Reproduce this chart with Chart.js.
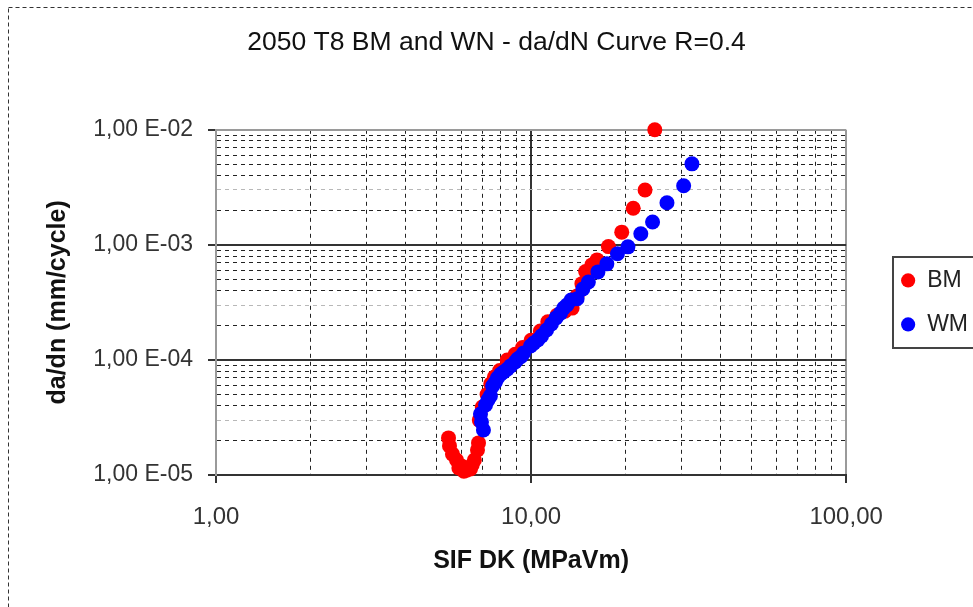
<!DOCTYPE html>
<html>
<head>
<meta charset="utf-8">
<title>2050 T8 BM and WN - da/dN Curve</title>
<script src="https://cdn.jsdelivr.net/npm/chart.js@4.4.1/dist/chart.umd.min.js"></script>
<style>
  html, body { margin: 0; padding: 0; background: #fff; overflow: hidden; }
  canvas { display: block; }
</style>
</head>
<body>
<canvas id="dadnChart" width="1000" height="630"></canvas>
<script>
// crack growth rate vs stress intensity range, R = 0.4
// BM = base metal, WM = weld metal
const bmDeltaK = [5.47, 5.51, 5.63, 5.80, 5.90, 6.01, 6.12, 6.24, 6.42, 6.50, 6.61, 6.76, 6.81,
  6.85, 7.00, 7.25, 7.45, 7.65, 7.95, 8.40, 8.90, 9.40, 10.0, 10.7, 11.3, 12.1, 12.8, 13.5,
  14.0, 14.5, 14.9, 15.6, 16.2, 17.6, 19.4, 21.1, 23.0, 24.7];
const bmRate = [2.10e-5, 1.79e-5, 1.52e-5, 1.35e-5, 1.15e-5, 1.20e-5, 1.08e-5, 1.10e-5, 1.13e-5, 1.22e-5, 1.35e-5, 1.65e-5, 1.90e-5,
  3.0e-5, 3.9e-5, 5.0e-5, 6.2e-5, 7.1e-5, 8.1e-5, 1.0e-4, 1.12e-4, 1.28e-4, 1.48e-4, 1.78e-4, 2.15e-4, 2.45e-4, 2.65e-4, 2.82e-4,
  3.6e-4, 4.6e-4, 5.86e-4, 6.7e-4, 7.4e-4, 9.66e-4, 1.29e-3, 2.08e-3, 3.0e-3, 1.0e-2];

const wmDeltaK = [7.06, 6.96, 6.91, 7.17, 7.30, 7.43, 7.55, 7.70, 7.82, 8.00, 8.18, 8.40, 8.61, 8.90, 9.06, 9.30, 9.47, 9.96,
  10.2, 10.5, 10.8, 11.2, 11.6, 12.0, 12.4, 12.7, 13.0, 13.4, 14.0, 14.6, 15.2, 16.3, 17.4, 18.8, 20.3,
  22.3, 24.3, 27.0, 30.5, 32.4];
const wmRate = [2.46e-5, 2.89e-5, 3.39e-5, 4.06e-5, 4.5e-5, 4.87e-5, 5.94e-5, 6.4e-5, 6.97e-5, 7.5e-5, 7.86e-5, 8.3e-5, 8.87e-5, 9.6e-5, 1.02e-4, 1.07e-4, 1.15e-4, 1.32e-4,
  1.40e-4, 1.49e-4, 1.62e-4, 1.82e-4, 2.05e-4, 2.32e-4, 2.55e-4, 2.83e-4, 3.0e-4, 3.32e-4, 3.4e-4, 4.14e-4, 4.76e-4, 5.82e-4, 6.84e-4, 8.36e-4, 9.61e-4,
  1.25e-3, 1.58e-3, 2.32e-3, 3.26e-3, 5.06e-3];

const xDecades = [1, 10, 100];
const xTickLabels = ['1,00', '10,00', '100,00'];
const yDecades = [1e-5, 1e-4, 1e-3, 1e-2];
const yTickLabels = ['1,00 E-05', '1,00 E-04', '1,00 E-03', '1,00 E-02'];

Chart.defaults.font.family = '"Liberation Sans", Arial, sans-serif';

const toPoints = (xs, ys) => xs.map((x, i) => ({ x: x, y: ys[i] }));

function mantissa(v) {
  return v / Math.pow(10, Math.floor(Math.log10(v) + 1e-9));
}
function isDecade(v) {
  return Math.abs(mantissa(v) - 1) < 1e-6 || Math.abs(mantissa(v) - 10) < 1e-6;
}
function decadeIndex(list, v) {
  return list.findIndex(d => Math.abs(Math.log10(v) - Math.log10(d)) < 1e-6);
}
// log scale only gets 1..9 x 10^n steps
function keepWholeSteps(scale) {
  scale.ticks = scale.ticks.filter(t => {
    const m = mantissa(t.value);
    return Math.abs(m - Math.round(m)) < 1e-6;
  });
}

function gridColor(ctx, horizontalLines) {
  if (!ctx.tick) return '#333';
  const v = ctx.tick.value;
  if (isDecade(v)) {
    return Math.abs(Math.log10(v) - Math.log10(ctx.scale.max)) < 1e-6 ? '#9a9a9a' : '#333';
  }
  if (horizontalLines && Math.abs(mantissa(v) - 3) < 1e-6) return '#b8b8b8';
  return '#222';
}
const gridWidth = ctx => (ctx.tick && isDecade(ctx.tick.value) ? 2 : 1);
const gridDash = ctx => (ctx.tick && isDecade(ctx.tick.value) ? [] : [4, 4]);
const tickMarkColor = ctx => (ctx.tick && isDecade(ctx.tick.value) ? '#333' : 'rgba(0,0,0,0)');

// white background, dashed outer frame and the legend box
const framePlugin = {
  id: 'frame',
  beforeDraw(chart) {
    const ctx = chart.ctx;
    ctx.save();
    ctx.fillStyle = '#fff';
    ctx.fillRect(0, 0, chart.width, chart.height);
    ctx.strokeStyle = '#333';
    ctx.lineWidth = 1;
    ctx.setLineDash([4, 3]);
    ctx.strokeRect(8.5, 7.5, chart.width, chart.height);
    ctx.restore();
  },
  afterDraw(chart) {
    const boxes = chart.legend && chart.legend.legendHitBoxes;
    if (!boxes || !boxes.length) return;
    const first = boxes[0];
    const last = boxes[boxes.length - 1];
    const x = Math.round(first.left - 7.5);
    const y = Math.round(first.top - 12);
    const ctx = chart.ctx;
    ctx.save();
    ctx.strokeStyle = '#444';
    ctx.lineWidth = 2;
    ctx.strokeRect(x, y, chart.width - x + 10, Math.round(last.top + last.height + 12) - y);
    ctx.restore();
  }
};

new Chart(document.getElementById('dadnChart'), {
  type: 'scatter',
  data: {
    datasets: [
      {
        label: 'BM',
        data: toPoints(bmDeltaK, bmRate),
        backgroundColor: '#ff0000',
        borderColor: '#ff0000',
        pointRadius: 7.5,
        pointBorderWidth: 0,
        order: 2,
        clip: false
      },
      {
        label: 'WM',
        data: toPoints(wmDeltaK, wmRate),
        backgroundColor: '#0000ff',
        borderColor: '#0000ff',
        pointRadius: 7.5,
        pointBorderWidth: 0,
        order: 1,
        clip: false
      }
    ]
  },
  options: {
    responsive: false,
    animation: false,
    layout: { padding: { left: 15, top: 0, right: 22, bottom: 0 } },
    plugins: {
      title: {
        display: true,
        text: '2050 T8 BM and WN - da/dN Curve R=0.4',
        color: '#111',
        font: { size: 26.5, weight: 'normal' },
        padding: { top: 27, bottom: 71 }
      },
      legend: {
        position: 'right',
        fullSize: false,
        labels: {
          usePointStyle: true,
          pointStyle: 'circle',
          boxWidth: 15,
          boxHeight: 10,
          padding: 21,
          color: '#222',
          font: { size: 23 },
          sort: (a, b) => a.datasetIndex - b.datasetIndex
        }
      },
      tooltip: { enabled: false }
    },
    scales: {
      x: {
        type: 'logarithmic',
        position: 'bottom',
        min: 1,
        max: 100,
        afterBuildTicks: keepWholeSteps,
        afterFit: scale => { scale.height = 155; },
        ticks: {
          autoSkip: false,
          maxRotation: 0,
          padding: 20,
          color: '#333',
          font: { size: 24 },
          callback: v => {
            const i = decadeIndex(xDecades, v);
            return i < 0 ? '' : xTickLabels[i];
          }
        },
        grid: {
          color: ctx => gridColor(ctx, false),
          lineWidth: gridWidth,
          tickLength: 8,
          tickWidth: 2,
          tickColor: tickMarkColor
        },
        border: { display: true, color: '#333', width: 2, dash: gridDash },
        title: {
          display: true,
          text: 'SIF DK (MPaVm)',
          color: '#111',
          font: { size: 25, weight: 'bold' },
          padding: { top: 0, bottom: 54 }
        }
      },
      y: {
        type: 'logarithmic',
        position: 'left',
        min: 1e-5,
        max: 1e-2,
        afterBuildTicks: keepWholeSteps,
        afterFit: scale => { scale.width = 201; },
        ticks: {
          autoSkip: false,
          padding: 15,
          color: '#333',
          font: { size: 23 },
          callback: v => {
            const i = decadeIndex(yDecades, v);
            return i < 0 ? '' : yTickLabels[i];
          }
        },
        grid: {
          color: ctx => gridColor(ctx, true),
          lineWidth: gridWidth,
          tickLength: 8,
          tickWidth: 2,
          tickColor: tickMarkColor
        },
        border: { display: true, color: '#9a9a9a', width: 2, dash: gridDash },
        title: {
          display: true,
          text: 'da/dn (mm/cycle)',
          color: '#111',
          font: { size: 25, weight: 'bold' },
          padding: { top: 28.5, bottom: 0 }
        }
      },
      // empty right-hand axis, keeps the gap between plot and legend
      gap: {
        type: 'logarithmic',
        position: 'right',
        min: 1e-5,
        max: 1e-2,
        afterFit: scale => { scale.width = 33.5; },
        ticks: { display: false },
        grid: { display: false },
        border: { display: false }
      }
    }
  },
  plugins: [framePlugin]
});
</script>
</body>
</html>
